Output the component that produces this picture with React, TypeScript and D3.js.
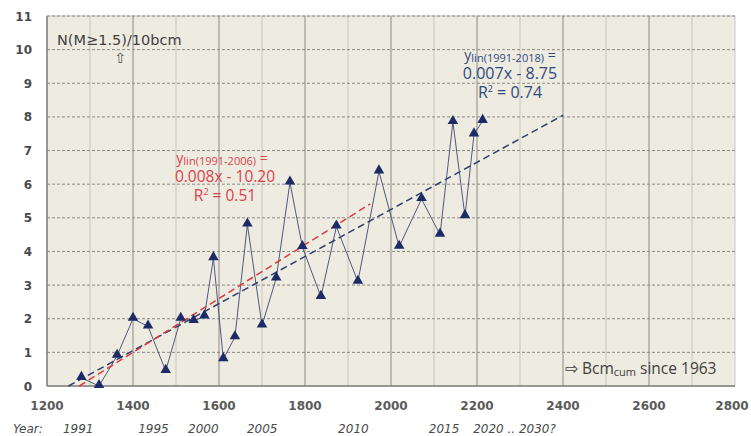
import React from "react";
import * as d3 from "d3";

// cumulative Bcm (x) vs N(M>=1.5)/10bcm (y)
const bcm = [1280, 1321, 1363, 1400, 1435, 1476, 1511, 1541, 1566, 1587, 1610, 1637, 1666, 1700, 1733, 1765, 1794, 1837, 1873, 1923, 1972, 2019, 2071, 2114, 2144, 2172, 2193, 2213];
const rate = [0.24, 0.0, 0.9, 2.0, 1.77, 0.45, 2.0, 1.93, 2.07, 3.8, 0.8, 1.45, 4.8, 1.8, 3.2, 6.05, 4.13, 2.65, 4.74, 3.1, 6.38, 4.14, 5.56, 4.5, 7.85, 5.05, 7.48, 7.88];

const xTicks = [1200, 1400, 1600, 1800, 2000, 2200, 2400, 2600, 2800];
const yTicks = [0, 1, 2, 3, 4, 5, 6, 7, 8, 9, 10, 11];
const yearLabels = ["1991", "1995", "2000", "2005", "2010", "2015", "2020 .. 2030?"];
const yearAt = [1237, 1412, 1528, 1665, 1877, 2088, 2191];

// trend lines: slope, intercept, from, to
const trendAll = { a: 0.007, b: -8.75, x0: 1250, x1: 2400 };
const trend2006 = { a: 0.008, b: -10.2, x0: 1275, x1: 1952 };

export default function App() {
  const width = 751;
  const height = 436;
  const x = d3.scaleLinear().domain([1200, 2800]).range([47, 735]);
  const y = d3.scaleLinear().domain([0, 11]).range([386, 16]);

  const pts: [number, number][] = bcm.map((b, i) => [b, rate[i]]);
  const line = d3.line<[number, number]>().x((d) => x(d[0])).y((d) => y(d[1]));
  const tri = d3.symbol().type(d3.symbolTriangle).size(48)();

  const minor = d3.range(1300, 2800, 200);
  const tickFont = "'DejaVu Sans', Verdana, sans-serif";
  const noteFont = "'Open Sans', 'Liberation Sans', sans-serif";

  const trendPath = (t: typeof trendAll) =>
    line([
      [t.x0, t.a * t.x0 + t.b],
      [t.x1, t.a * t.x1 + t.b],
    ]) as string;

  return (
    <svg width={width} height={height} style={{ position: "absolute", left: 0, top: 0 }}>
      <rect x={0} y={0} width={width} height={height} fill="#fff" />
      <rect x={x(1200)} y={y(11)} width={x(2800) - x(1200)} height={y(0) - y(11)} fill="#eeebe1" stroke="#c8c8c8" />
      {minor.map((v) => (
        <line key={"m" + v} x1={x(v)} x2={x(v)} y1={y(11)} y2={y(0)} stroke="#c9c6bd" strokeWidth={1} />
      ))}
      {xTicks.slice(1, -1).map((v) => (
        <line key={"M" + v} x1={x(v)} x2={x(v)} y1={y(11)} y2={y(0)} stroke="#8a8a86" strokeWidth={1} />
      ))}
      {yTicks.slice(1).map((v) => (
        <line key={"h" + v} x1={x(1200)} x2={x(2800)} y1={y(v)} y2={y(v)} stroke="#8a8a86" strokeDasharray="3,2" strokeWidth={1} />
      ))}
      <line x1={x(1200)} x2={x(1200)} y1={y(11)} y2={y(0)} stroke="#7f7f7f" strokeWidth={1.5} />
      <line x1={x(1200)} x2={x(2800)} y1={y(0)} y2={y(0)} stroke="#7f7f7f" strokeWidth={1.5} />

      {yTicks.map((v) => (
        <text key={"yt" + v} x={32} y={y(v) + 4.5} textAnchor="end" fontFamily={tickFont} fontSize={12} fontWeight="bold" fill="#4a4a4a">
          {v}
        </text>
      ))}
      {xTicks.map((v) => (
        <text key={"xt" + v} x={Math.min(x(v), 732)} y={410} textAnchor="middle" fontFamily={tickFont} fontSize={12} fontWeight="bold" fill="#5a5a5a">
          {v}
        </text>
      ))}
      <text x={13} y={433} fontFamily={tickFont} fontSize={12} fontStyle="italic" fill="#4a4a4a">Year:</text>
      {yearLabels.map((t, i) => (
        <text key={t} x={x(yearAt[i])} y={433} fontFamily={tickFont} fontSize={12} fontStyle="italic" fill="#4a4a4a">
          {t}
        </text>
      ))}

      <path d={line(pts) as string} fill="none" stroke="#4d5a7e" strokeWidth={1} />
      <path d={trendPath(trendAll)} fill="none" stroke="#2f3f6e" strokeWidth={1.5} strokeDasharray="7,4" />
      <path d={trendPath(trend2006)} fill="none" stroke="#e0393e" strokeWidth={1.5} strokeDasharray="7,4" />
      {pts.map((d, i) => (
        <path key={"p" + i} d={tri as string} transform={`translate(${x(d[0])},${y(d[1]) - 1})`} fill="#1c2a66" />
      ))}

      <text x={57} y={45} fontFamily={tickFont} fontSize={14.5} fill="#404040">N(M≥1.5)/10bcm</text>
      <text x={120} y={63} textAnchor="middle" fontFamily={tickFont} fontSize={14} fill="#505050">⇧</text>

      <g fontFamily={noteFont} fill="#d9434b" textAnchor="middle">
        <text x={222} y={163} fontSize={14}>
          y<tspan fontSize={11} dy={1.5}>lin(1991-2006)</tspan><tspan dy={-1.5}> =</tspan>
        </text>
        <text x={225} y={182} fontSize={15.5}>0.008x - 10.20</text>
        <text x={225} y={201} fontSize={15.5}>R<tspan fontSize={9} dy={-6}>2</tspan><tspan dy={6}> = 0.51</tspan></text>
      </g>
      <g fontFamily={noteFont} fill="#2f4a7c" textAnchor="middle">
        <text x={510} y={60} fontSize={14}>
          y<tspan fontSize={11} dy={1.5}>lin(1991-2018)</tspan><tspan dy={-1.5}> =</tspan>
        </text>
        <text x={510} y={79} fontSize={16}>0.007x - 8.75</text>
        <text x={510} y={98} fontSize={16}>R<tspan fontSize={9} dy={-6}>2</tspan><tspan dy={6}> = 0.74</tspan></text>
      </g>
      <text x={565} y={374} fontFamily={noteFont} fontSize={15.5} fill="#404040">
        ⇨ Bcm<tspan fontSize={11} dy={2}>cum</tspan><tspan dy={-2}> since 1963</tspan>
      </text>
    </svg>
  );
}
